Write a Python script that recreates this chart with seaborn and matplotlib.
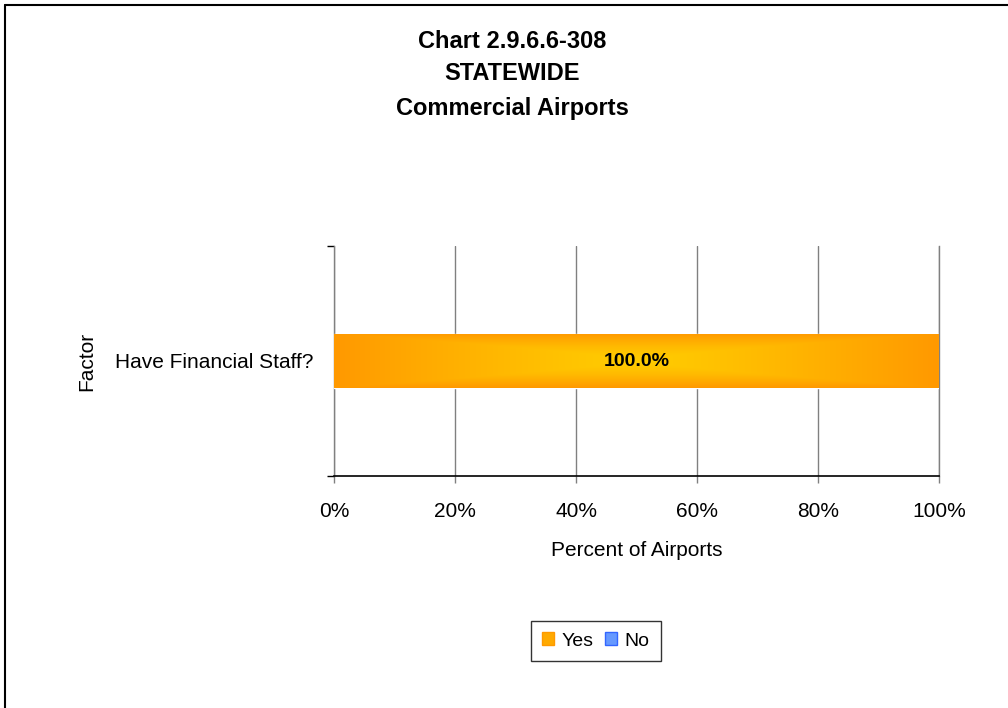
import matplotlib
matplotlib.use("Agg")
import matplotlib.pyplot as plt
import matplotlib.patches as mpatches
from matplotlib.lines import Line2D
import seaborn as sns
import numpy as np
import pandas as pd

# data
factors = ["Have Financial Staff?"]
yes_pct = [100.0]
no_pct = [0.0]
x_ticks = [0, 20, 40, 60, 80, 100]
title_lines = ["Chart 2.9.6.6-308", "STATEWIDE", "Commercial Airports"]

df = pd.DataFrame({"Factor": factors, "Yes": yes_pct, "No": no_pct})

sns.set_theme(style="white", rc={"text.color": "black", "axes.labelcolor": "black",
                                 "xtick.color": "black", "ytick.color": "black"})
plt.rcParams["font.family"] = ["Liberation Sans", "DejaVu Sans"]

fig = plt.figure(figsize=(10.08, 7.08), dpi=100)
ax = fig.add_axes([334 / 1008, 1 - 476 / 708, 605 / 1008, 230 / 708])

bar_h = 0.235
sns.barplot(data=df, x="Yes", y="Factor", orient="h", color="#FF9900",
            width=bar_h, ax=ax, zorder=3)
ax.barh(df["Factor"], df["No"], left=df["Yes"], height=bar_h,
        color="#6699FF", zorder=3)

# gradient fill on the Yes bar (orange edges -> yellow centre)
for patch in ax.patches[:len(factors)]:
    x0, y0 = patch.get_x(), patch.get_y()
    w, h = patch.get_width(), patch.get_height()
    xx = np.linspace(-1, 1, 300)
    yy = np.linspace(-1, 1, 60)
    X, Y = np.meshgrid(xx, yy)
    t = np.clip(np.maximum(np.abs(X) ** 1.2, np.abs(Y) ** 1.5), 0, 1)
    c_mid = np.array([1.0, 0.80, 0.0])
    c_edge = np.array([1.0, 0.60, 0.0])
    img = c_mid[None, None, :] * (1 - t[..., None]) + c_edge[None, None, :] * t[..., None]
    im = ax.imshow(img, extent=[x0, x0 + w, y0, y0 + h], aspect="auto",
                   zorder=4, interpolation="bilinear")
    im.set_clip_path(patch)
    ax.text(x0 + w / 2, y0 + h / 2, f"{yes_pct[0]:.1f}%", ha="center",
            va="center", fontsize=14, fontweight="bold", color="black", zorder=5)

ax.set_xlim(0, 100)
ax.set_ylim(0.5, -0.5)
ax.set_xticks(x_ticks)
ax.set_xticklabels([f"{v}%" for v in x_ticks], fontsize=15)
ax.set_yticks([-0.5, 0.5], minor=False)
ax.set_yticklabels([])
ax.set_yticks([0], minor=True)
ax.set_yticklabels(factors, minor=True, fontsize=15)
ax.tick_params(axis="y", which="minor", length=0, pad=15)
ax.tick_params(axis="y", which="major", length=5, width=1, color="black",
               direction="out", left=True)
ax.tick_params(axis="x", length=5, width=1, color="#808080", direction="out",
               bottom=True, pad=14)

ax.xaxis.grid(True, color="#808080", linewidth=1, zorder=0)
ax.set_axisbelow(True)
ax.spines["top"].set_visible(False)
ax.spines["right"].set_color("#808080")
ax.spines["right"].set_linewidth(1)
ax.spines["left"].set_color("#808080")
ax.spines["bottom"].set_color("black")
ax.spines["left"].set_linewidth(1)
ax.spines["bottom"].set_linewidth(1.2)

ax.set_xlabel("Percent of Airports", fontsize=15, labelpad=14)
ax.set_ylabel("Factor", fontsize=15)
ax.yaxis.set_label_coords(-238 / 605, 0.5)

for txt, ypx in zip(title_lines, [42, 74, 108]):
    fig.text(512 / 1008, 1 - ypx / 708, txt, ha="center", va="center",
             fontsize=17, fontweight="bold", color="black")

handles = [
    mpatches.Patch(facecolor="#FFAA00", edgecolor="#FF9900", label="Yes"),
    mpatches.Patch(facecolor="#6699FF", edgecolor="#3366FF", label="No"),
]
leg = fig.legend(handles=handles, loc="center", bbox_to_anchor=(596 / 1008, 1 - 641 / 708),
                 ncol=2, frameon=True, fontsize=14, handlelength=0.6, handleheight=0.6,
                 handletextpad=0.4, columnspacing=0.6, borderpad=0.6, fancybox=False)
leg.get_frame().set_edgecolor("black")
leg.get_frame().set_linewidth(1)

# outer frame (left and top edges visible)
fig.add_artist(Line2D([5 / 1008, 5 / 1008], [0, 1 - 5 / 708], transform=fig.transFigure,
                      color="black", linewidth=1.5))
fig.add_artist(Line2D([5 / 1008, 1], [1 - 5 / 708, 1 - 5 / 708], transform=fig.transFigure,
                      color="black", linewidth=1.5))

fig.savefig("out.png", dpi=100)
